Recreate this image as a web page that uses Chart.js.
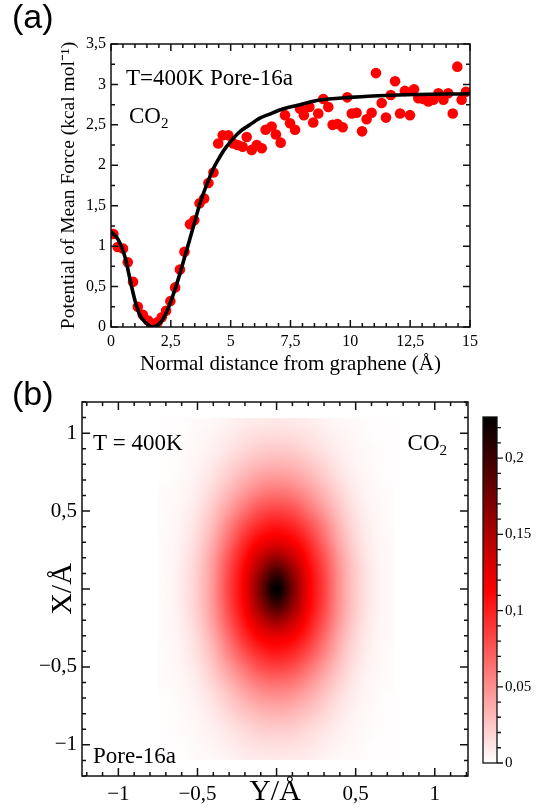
<!DOCTYPE html>
<html>
<head>
<meta charset="utf-8">
<title>Pore-16a CO2 - PMF and density map</title>
<script src="https://cdn.jsdelivr.net/npm/chart.js@4.4.1/dist/chart.umd.min.js"></script>
<style>
  html, body { margin: 0; padding: 0; background: #fff; }
  #wrap { position: relative; width: 536px; height: 811px; overflow: hidden; }
  canvas { position: absolute; }
</style>
</head>
<body>
<div id="wrap">
  <canvas id="pmf" width="536" height="380" style="left:0;top:0"></canvas>
  <canvas id="dens" width="536" height="431" style="left:0;top:380px"></canvas>
  <canvas id="cbar" width="66" height="390" style="left:470px;top:400px"></canvas>
</div>
<script>
// ---- panel (a): potential of mean force vs distance ----
const pmfDist = [0.10, 0.28, 0.50, 0.70, 0.92, 1.12, 1.33, 1.55, 1.75, 1.95, 2.12, 2.30, 2.48, 2.68, 2.88,
  3.07, 3.30, 3.48, 3.70, 3.89, 4.07, 4.28, 4.48, 4.67, 4.90, 5.11, 5.29, 5.50, 5.67, 5.88, 6.09, 6.30,
  6.46, 6.71, 6.89, 7.09, 7.27, 7.48, 7.69, 7.90, 8.06, 8.29, 8.45, 8.66, 8.87, 9.08, 9.26, 9.46, 9.68,
  9.87, 10.06, 10.26, 10.49, 10.68, 10.89, 11.07, 11.31, 11.49, 11.69, 11.87, 12.08, 12.28, 12.49, 12.66,
  12.84, 13.05, 13.26, 13.47, 13.68, 13.89, 14.09, 14.28, 14.47, 14.65, 14.83];
const pmfEnergy = [1.15, 0.99, 0.97, 0.80, 0.56, 0.25, 0.15, 0.08, 0.04, 0.06, 0.12, 0.20, 0.32, 0.49, 0.71,
  0.93, 1.27, 1.32, 1.53, 1.59, 1.78, 1.91, 2.27, 2.37, 2.37, 2.27, 2.25, 2.23, 2.35, 2.19, 2.25, 2.21,
  2.44, 2.48, 2.38, 2.28, 2.62, 2.52, 2.44, 2.70, 2.62, 2.72, 2.53, 2.64, 2.82, 2.72, 2.50, 2.51, 2.47,
  2.84, 2.64, 2.65, 2.42, 2.57, 2.65, 3.14, 2.77, 2.59, 2.87, 3.04, 2.64, 2.92, 2.62, 2.94,
  2.83, 2.82, 2.79, 2.81, 2.89, 2.81, 2.89, 2.64, 3.22, 2.81, 2.91];
const fitDist = [0, 0.3, 0.6, 0.8, 1.0, 1.2, 1.5, 1.75, 2.05, 2.33, 2.6, 2.88, 3.16, 3.44, 3.72, 4.0,
  4.28, 4.5, 4.75, 5.1, 5.4, 5.8, 6.2, 6.6, 7.2, 7.9, 8.6, 10, 12, 15];
const fitEnergy = [1.18, 1.08, 0.85, 0.58, 0.33, 0.15, 0.04, 0.0, 0.05, 0.19, 0.40, 0.66, 0.95, 1.24, 1.53, 1.76,
  1.96, 2.08, 2.20, 2.33, 2.42, 2.50, 2.58, 2.63, 2.70, 2.75, 2.80, 2.84, 2.87, 2.885];

// ---- panel (b): density map, rows = X (top to bottom), columns = Y ----
const densY = [-0.7, -0.6, -0.5, -0.4, -0.3, -0.2, -0.1, 0, 0.1, 0.2, 0.3, 0.4, 0.5, 0.6, 0.7];
const densX = [1.1, 1.0, 0.9, 0.8, 0.7, 0.6, 0.5, 0.4, 0.3, 0.2, 0.1, 0, -0.1, -0.2, -0.3, -0.4, -0.5,
  -0.6, -0.7, -0.8, -0.9, -1.0, -1.1];
const densZ = [
  [0.001,0.001,0.002,0.003,0.005,0.008,0.009,0.010,0.009,0.008,0.005,0.003,0.002,0.001,0.001],
  [0.001,0.001,0.003,0.005,0.008,0.012,0.014,0.015,0.014,0.012,0.008,0.005,0.003,0.001,0.001],
  [0.001,0.002,0.004,0.007,0.012,0.017,0.022,0.023,0.022,0.017,0.012,0.007,0.004,0.002,0.001],
  [0.001,0.002,0.005,0.010,0.018,0.026,0.032,0.034,0.032,0.026,0.018,0.010,0.005,0.002,0.001],
  [0.001,0.003,0.007,0.014,0.025,0.036,0.045,0.048,0.045,0.036,0.025,0.014,0.007,0.003,0.001],
  [0.002,0.004,0.009,0.020,0.034,0.049,0.061,0.065,0.061,0.049,0.034,0.020,0.009,0.004,0.002],
  [0.002,0.005,0.012,0.026,0.045,0.064,0.080,0.085,0.080,0.064,0.045,0.026,0.012,0.005,0.002],
  [0.002,0.006,0.015,0.032,0.057,0.081,0.098,0.105,0.098,0.081,0.057,0.032,0.015,0.006,0.002],
  [0.003,0.007,0.018,0.038,0.067,0.096,0.117,0.125,0.117,0.096,0.067,0.038,0.018,0.007,0.003],
  [0.003,0.008,0.021,0.044,0.077,0.108,0.140,0.160,0.140,0.108,0.077,0.044,0.021,0.008,0.003],
  [0.003,0.009,0.023,0.047,0.083,0.117,0.164,0.200,0.164,0.117,0.083,0.047,0.023,0.009,0.003],
  [0.003,0.009,0.023,0.048,0.085,0.120,0.176,0.227,0.176,0.120,0.085,0.048,0.023,0.009,0.003],
  [0.003,0.009,0.023,0.047,0.083,0.117,0.164,0.200,0.164,0.117,0.083,0.047,0.023,0.009,0.003],
  [0.003,0.008,0.021,0.044,0.077,0.108,0.140,0.160,0.140,0.108,0.077,0.044,0.021,0.008,0.003],
  [0.003,0.007,0.018,0.038,0.067,0.096,0.117,0.125,0.117,0.096,0.067,0.038,0.018,0.007,0.003],
  [0.002,0.006,0.015,0.032,0.057,0.081,0.098,0.105,0.098,0.081,0.057,0.032,0.015,0.006,0.002],
  [0.002,0.005,0.012,0.026,0.045,0.064,0.080,0.085,0.080,0.064,0.045,0.026,0.012,0.005,0.002],
  [0.002,0.004,0.009,0.020,0.034,0.049,0.061,0.065,0.061,0.049,0.034,0.020,0.009,0.004,0.002],
  [0.001,0.003,0.007,0.014,0.025,0.036,0.045,0.048,0.045,0.036,0.025,0.014,0.007,0.003,0.001],
  [0.001,0.002,0.005,0.010,0.018,0.026,0.032,0.034,0.032,0.026,0.018,0.010,0.005,0.002,0.001],
  [0.001,0.002,0.004,0.007,0.012,0.017,0.022,0.023,0.022,0.017,0.012,0.007,0.004,0.002,0.001],
  [0.001,0.001,0.003,0.005,0.008,0.012,0.014,0.015,0.014,0.012,0.008,0.005,0.003,0.001,0.001],
  [0.001,0.001,0.002,0.003,0.005,0.008,0.009,0.010,0.009,0.008,0.005,0.003,0.002,0.001,0.001]
];
const densXEdge = 1.1;          // map is cut at |X| = 1.1
const cbMax = 0.227;            // colour bar top
const cbTicks = [0, 0.05, 0.1, 0.15, 0.2];
const cmapStops = [0, 0.5, 1];
const cmapColors = [[255, 255, 255], [255, 0, 0], [0, 0, 0]];

Chart.defaults.font.family = '"Liberation Serif", "Times New Roman", serif';
Chart.defaults.color = '#000';

const SERIF = '"Liberation Serif", "Times New Roman", serif';
const INK = '#111';

function fmt(v, blankZero) {
  if (Math.abs(v) < 1e-9) return blankZero ? '' : '0';
  const s = String(Math.round(Math.abs(v) * 100) / 100).replace('.', ',');
  return v < 0 ? '\u2212' + s : s;
}

function cmap(t) {
  t = Math.max(0, Math.min(1, t));
  for (let i = 1; i < cmapStops.length; i++) {
    if (t <= cmapStops[i]) {
      const f = (t - cmapStops[i - 1]) / (cmapStops[i] - cmapStops[i - 1]);
      const a = cmapColors[i - 1], b = cmapColors[i];
      return [0, 1, 2].map(k => Math.round(a[k] + (b[k] - a[k]) * f));
    }
  }
  return cmapColors[cmapColors.length - 1];
}

function stepsIn(min, max, step) {
  const out = [];
  for (let v = Math.ceil(min / step - 1e-9) * step; v <= max + 1e-9; v += step) out.push(v);
  return out;
}
const isMult = (v, m) => Math.abs(v / m - Math.round(v / m)) < 1e-6;

// frame + inward ticks on all four sides
function framePlugin(o) {
  return {
    id: 'frame',
    afterDraw(chart) {
      const { ctx, chartArea: a, scales: { x, y } } = chart;
      ctx.save();
      ctx.strokeStyle = INK;
      ctx.lineWidth = o.lw;
      ctx.beginPath();
      stepsIn(x.min, x.max, o.xMinor).forEach(v => {
        const p = x.getPixelForValue(v), l = isMult(v, o.xMajor) ? o.maj : o.min;
        ctx.moveTo(p, a.bottom); ctx.lineTo(p, a.bottom - l);
        ctx.moveTo(p, a.top); ctx.lineTo(p, a.top + l);
      });
      stepsIn(y.min, y.max, o.yMinor).forEach(v => {
        const p = y.getPixelForValue(v), l = isMult(v, o.yMajor) ? o.maj : o.min;
        ctx.moveTo(a.left, p); ctx.lineTo(a.left + l, p);
        ctx.moveTo(a.right, p); ctx.lineTo(a.right - l, p);
      });
      ctx.stroke();
      ctx.strokeRect(a.left, a.top, a.right - a.left, a.bottom - a.top);
      ctx.restore();
    }
  };
}

// text notes inside the panels
function notesPlugin(items) {
  return {
    id: 'notes',
    afterDraw(chart) {
      const { ctx, chartArea: a } = chart;
      ctx.save();
      ctx.fillStyle = '#000';
      ctx.textBaseline = 'alphabetic';
      items.forEach(n => {
        ctx.font = n.size + 'px ' + (n.font || SERIF);
        const w = ctx.measureText(n.text).width;
        let sw = 0;
        const subFont = Math.round(n.size * 0.66) + 'px ' + SERIF;
        if (n.sub) { ctx.font = subFont; sw = ctx.measureText(n.sub).width; }
        const x = n.abs ? n.x : (n.right ? a.right - n.x - w - sw : a.left + n.x);
        const y = n.abs ? n.y : (n.bottom ? a.bottom - n.y : a.top + n.y);
        ctx.font = n.size + 'px ' + (n.font || SERIF);
        ctx.fillText(n.text, x, y);
        if (n.sub) { ctx.font = subFont; ctx.fillText(n.sub, x + w, y + 5); }
      });
      ctx.restore();
    }
  };
}

// ---------------- panel (a) ----------------
new Chart(document.getElementById('pmf'), {
  type: 'scatter',
  data: {
    datasets: [
      {
        type: 'line',
        data: fitDist.map((d, i) => ({ x: d, y: fitEnergy[i] })),
        borderColor: '#000',
        borderWidth: 3.6,
        pointRadius: 0,
        cubicInterpolationMode: 'monotone',
        clip: 0,
        order: 0
      },
      {
        data: pmfDist.map((d, i) => ({ x: d, y: pmfEnergy[i] })),
        backgroundColor: '#ff0000',
        borderColor: '#ff0000',
        borderWidth: 0,
        pointRadius: 5.3,
        clip: 0,
        order: 1
      }
    ]
  },
  options: {
    responsive: false,
    animation: false,
    events: [],
    layout: { padding: { left: 56, right: 66, top: 44, bottom: 0 } },
    plugins: { legend: { display: false }, tooltip: { enabled: false } },
    scales: {
      x: {
        type: 'linear', min: 0, max: 15,
        grid: { display: false, drawTicks: false }, border: { display: false },
        ticks: { stepSize: 2.5, padding: 5, autoSkip: false, maxRotation: 0,
                 font: { size: 16 }, callback: v => fmt(v) },
        title: { display: true, text: 'Normal distance from graphene (\u00c5)',
                 font: { size: 21 }, padding: { top: 0, bottom: 3 } },
        afterFit: s => { s.height = 53; }
      },
      y: {
        type: 'linear', min: 0, max: 3.5,
        grid: { display: false, drawTicks: false }, border: { display: false },
        ticks: { stepSize: 0.5, padding: 5, autoSkip: false, font: { size: 16 }, callback: v => fmt(v) },
        title: { display: true, text: 'Potential of Mean Force (kcal mol\u207b\u00b9)',
                 font: { size: 19.5 }, padding: { top: 1, bottom: 0 } },
        afterFit: s => { s.width = 55; }
      }
    }
  },
  plugins: [
    framePlugin({ xMinor: 0.5, xMajor: 2.5, yMinor: 0.25, yMajor: 0.5, maj: 7, min: 4, lw: 1.5 }),
    notesPlugin([
      { text: '(a)', size: 34, font: '"Liberation Sans", Arial, sans-serif', abs: true, x: 12, y: 28 },
      { text: 'T=400K Pore-16a', size: 23, x: 15, y: 41 },
      { text: 'CO', sub: '2', size: 23, x: 18, y: 79 }
    ])
  ]
});

// ---------------- panel (b) ----------------
// smooth (Catmull-Rom) resampling of the grid when painting it
function cr(p0, p1, p2, p3, t) {
  return p1 + 0.5 * t * (p2 - p0 + t * (2 * p0 - 5 * p1 + 4 * p2 - p3 + t * (3 * (p1 - p2) + p3 - p0)));
}
function sampleZ(rf, cf) {
  const nR = densX.length, nC = densY.length;
  const r = Math.floor(rf), c = Math.floor(cf), tr = rf - r, tc = cf - c;
  const get = (i, j) => densZ[Math.min(nR - 1, Math.max(0, i))][Math.min(nC - 1, Math.max(0, j))];
  const rows = [];
  for (let i = -1; i <= 2; i++) {
    rows.push(cr(get(r + i, c - 1), get(r + i, c), get(r + i, c + 1), get(r + i, c + 2), tc));
  }
  return Math.max(0, cr(rows[0], rows[1], rows[2], rows[3], tr));
}

const heatPlugin = {
  id: 'heat',
  beforeDatasetsDraw(chart) {
    const { ctx, scales: { x, y } } = chart;
    const nC = densY.length;
    const dy = densY[1] - densY[0], dx = densX[0] - densX[1];
    const left = Math.round(x.getPixelForValue(densY[0] - dy / 2));
    const right = Math.round(x.getPixelForValue(densY[nC - 1] + dy / 2));
    const top = Math.round(y.getPixelForValue(densXEdge));
    const bottom = Math.round(y.getPixelForValue(-densXEdge));
    const w = right - left, h = bottom - top;
    const off = document.createElement('canvas');
    off.width = w; off.height = h;
    const octx = off.getContext('2d');
    const img = octx.createImageData(w, h);
    for (let j = 0; j < h; j++) {
      const rf = (densX[0] - y.getValueForPixel(top + j + 0.5)) / dx;
      for (let i = 0; i < w; i++) {
        const cf = (x.getValueForPixel(left + i + 0.5) - densY[0]) / dy;
        const col = cmap(sampleZ(rf, cf) / cbMax), k = (j * w + i) * 4;
        img.data[k] = col[0]; img.data[k + 1] = col[1]; img.data[k + 2] = col[2]; img.data[k + 3] = 255;
      }
    }
    octx.putImageData(img, 0, 0);
    ctx.drawImage(off, left, top);
  }
};

new Chart(document.getElementById('dens'), {
  type: 'scatter',
  data: { datasets: [] },
  options: {
    responsive: false,
    animation: false,
    events: [],
    layout: { padding: { left: 40, right: 68, top: 22, bottom: 0 } },
    plugins: { legend: { display: false }, tooltip: { enabled: false } },
    scales: {
      x: {
        type: 'linear', min: -1.23, max: 1.21,
        grid: { display: false, drawTicks: false }, border: { display: false },
        ticks: { stepSize: 0.5, includeBounds: false, padding: 6, autoSkip: false, maxRotation: 0,
                 font: { size: 21 }, callback: v => fmt(v, true) },
        title: { display: true, text: 'Y/\u00c5', font: { size: 30 }, padding: { top: 0, bottom: 1 } },
        afterFit: s => { s.height = 35; }
      },
      y: {
        type: 'linear', min: -1.2, max: 1.2,
        grid: { display: false, drawTicks: false }, border: { display: false },
        ticks: { stepSize: 0.5, includeBounds: false, padding: 5, autoSkip: false,
                 font: { size: 21 }, callback: v => fmt(v, true) },
        title: { display: true, text: 'X/\u00c5', font: { size: 30 }, padding: { top: 5, bottom: 0 } },
        afterFit: s => { s.width = 42; }
      }
    }
  },
  plugins: [
    heatPlugin,
    framePlugin({ xMinor: 0.1, xMajor: 0.5, yMinor: 0.1, yMajor: 0.5, maj: 8, min: 4, lw: 1.5 }),
    notesPlugin([
      { text: '(b)', size: 34, font: '"Liberation Sans", Arial, sans-serif', abs: true, x: 12, y: 25 },
      { text: 'T = 400K', size: 23, x: 11, y: 48 },
      { text: 'CO', sub: '2', size: 23, right: true, x: 21, y: 48 },
      { text: 'Pore-16a', size: 23, bottom: true, x: 11, y: 13 }
    ])
  ]
});

// ---------------- colour bar ----------------
const cbarPlugin = {
  id: 'cbar',
  beforeDatasetsDraw(chart) {
    const { ctx, chartArea: a, scales: { y } } = chart;
    const g = ctx.createLinearGradient(0, y.getPixelForValue(0), 0, y.getPixelForValue(cbMax));
    cmapStops.forEach((s, i) => g.addColorStop(s, 'rgb(' + cmapColors[i].join(',') + ')'));
    ctx.save();
    ctx.fillStyle = g;
    ctx.fillRect(a.left, a.top, a.right - a.left, a.bottom - a.top);
    ctx.strokeStyle = INK;
    ctx.lineWidth = 1.3;
    ctx.strokeRect(a.left, a.top, a.right - a.left, a.bottom - a.top);
    ctx.beginPath();
    stepsIn(0, cbMax, 0.01).forEach(v => {
      const p = y.getPixelForValue(v), l = isMult(v, 0.05) ? 6 : 4;
      ctx.moveTo(a.right, p); ctx.lineTo(a.right + l, p);
    });
    ctx.stroke();
    ctx.restore();
  }
};

new Chart(document.getElementById('cbar'), {
  type: 'scatter',
  data: { datasets: [] },
  options: {
    responsive: false,
    animation: false,
    events: [],
    layout: { padding: { left: 13, right: 0, top: 13, bottom: 27 } },
    plugins: { legend: { display: false }, tooltip: { enabled: false } },
    scales: {
      x: { type: 'linear', display: false, min: 0, max: 1 },
      y: {
        type: 'linear', position: 'right', min: 0, max: cbMax,
        grid: { display: false, drawTicks: false }, border: { display: false },
        afterBuildTicks: s => { s.ticks = cbTicks.map(v => ({ value: v })); },
        ticks: { padding: 8, autoSkip: false, font: { size: 15 }, callback: v => fmt(v) },
        afterFit: s => { s.width = 39; }
      }
    }
  },
  plugins: [cbarPlugin]
});
</script>
</body>
</html>
